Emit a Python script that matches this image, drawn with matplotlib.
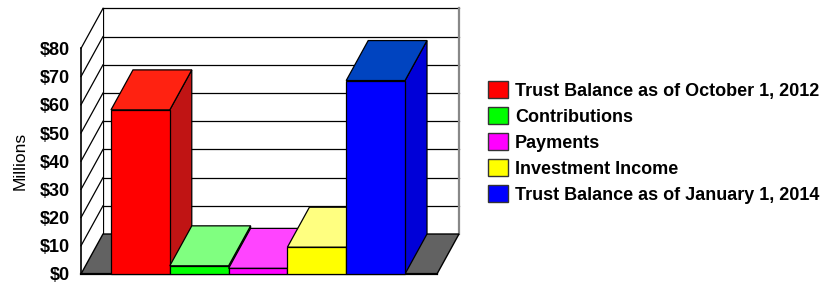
import matplotlib
matplotlib.use("Agg")
import matplotlib.pyplot as plt
from matplotlib.patches import Polygon, Patch

plt.rcParams['font.family'] = ['Liberation Sans', 'DejaVu Sans']

categories = ["Trust Balance as of October 1, 2012", "Contributions", "Payments",
              "Investment Income", "Trust Balance as of January 1, 2014"]
values = [58.2, 2.9, 2.0, 9.5, 68.6]
tick_values = [0, 10, 20, 30, 40, 50, 60, 70, 80]
tick_labels = ["$0", "$10", "$20", "$30", "$40", "$50", "$60", "$70", "$80"]

front_colors = ["#FF0000", "#00FF00", "#FF00FF", "#FFFF00", "#0000FF"]
top_colors = ["#FF2211", "#80FF80", "#FF44FF", "#FFFF80", "#0044C0"]
side_colors = ["#C01414", "#00C800", "#C000C0", "#C0C000", "#0000D8"]

W, H = 822, 286
fig = plt.figure(figsize=(W / 100, H / 100), dpi=100)
ax = fig.add_axes([81 / W, 12 / H, 356 / W, 225.6 / H])

xmin, xmax = -0.51, 5.544
ymax = 80
dx, dy = 0.374, 14.18
ax.set_xlim(xmin, xmax)
ax.set_ylim(0, ymax)

def poly(pts, fc, ec="black", lw=0.9, z=1):
    p = Polygon(pts, closed=True, facecolor=fc, edgecolor=ec, linewidth=lw,
                clip_on=False, zorder=z, joinstyle="miter")
    ax.add_patch(p)

# back wall
poly([(xmin + dx, dy), (xmax + dx, dy), (xmax + dx, ymax + dy), (xmin + dx, ymax + dy)],
     "white", ec="none", z=1)
for v in tick_values[1:]:
    ax.plot([xmin + dx, xmax + dx], [v + dy, v + dy], color="black", lw=0.9,
            clip_on=False, zorder=2)
ax.plot([xmax + dx, xmax + dx], [dy, ymax + dy], color="#888888", lw=1.6,
        clip_on=False, zorder=2)
ax.plot([xmin + dx, xmin + dx], [dy, ymax + dy], color="black", lw=0.9,
        clip_on=False, zorder=2)

# left wall
poly([(xmin, 0), (xmin + dx, dy), (xmin + dx, ymax + dy), (xmin, ymax)], "white",
     ec="none", z=2)
for v in tick_values[1:]:
    ax.plot([xmin, xmin + dx], [v, v + dy], color="black", lw=0.9, clip_on=False, zorder=3)
ax.plot([xmin, xmin], [0, ymax], color="black", lw=1.2, clip_on=False, zorder=3)

# floor
poly([(xmin, 0), (xmax, 0), (xmax + dx, dy), (xmin + dx, dy)], "#626262", lw=1.0, z=3)
ax.plot([xmin, xmax], [0, 0], color="black", lw=1.6, clip_on=False, zorder=4)

# bars
for i, (v, fc, tc, sc) in enumerate(zip(values, front_colors, top_colors, side_colors)):
    x0, x1 = i, i + 1
    z = 5 + i
    poly([(x1, 0), (x1 + dx, dy), (x1 + dx, v + dy), (x1, v)], sc, z=z)
    poly([(x0, v), (x1, v), (x1 + dx, v + dy), (x0 + dx, v + dy)], tc, z=z)
    poly([(x0, 0), (x1, 0), (x1, v), (x0, v)], fc, z=z)

for s in ax.spines.values():
    s.set_visible(False)
ax.set_xticks([])
ax.set_yticks(tick_values)
ax.set_yticklabels(tick_labels, fontsize=13, fontweight="bold")
ax.tick_params(axis="y", length=0, pad=8)
ax.set_ylabel("Millions", fontsize=12.5)
ax.yaxis.set_label_coords(-0.149, 0.5)
ax.patch.set_visible(False)

handles = [Patch(facecolor=c, edgecolor="#333333", linewidth=1.0) for c in front_colors]
fig.legend(handles, categories, loc="upper left", bbox_to_anchor=(488 / W, 1 - 81 / H),
           frameon=False, prop={"size": 13, "weight": "bold"}, handlelength=1.1,
           handleheight=1.05, handletextpad=0.4, labelspacing=0.42, borderpad=0,
           borderaxespad=0)

fig.savefig("out.png", dpi=100)
